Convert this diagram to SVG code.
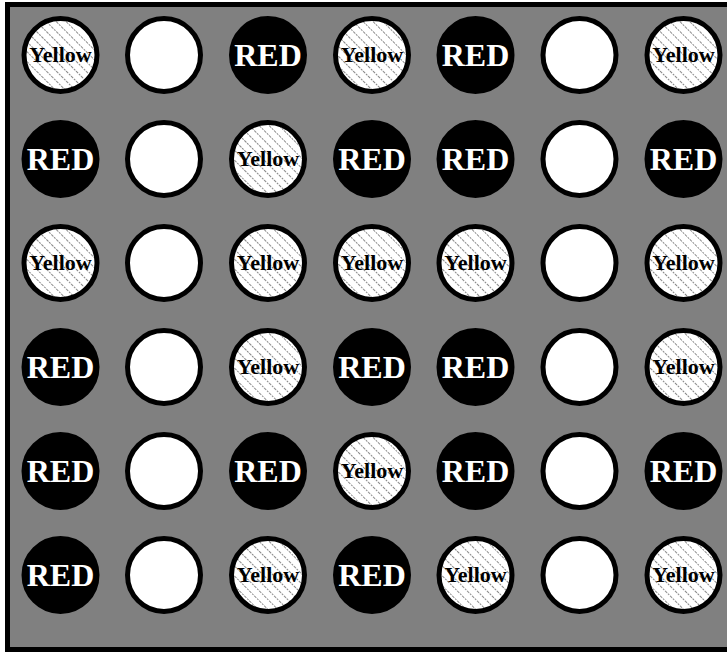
<svg xmlns="http://www.w3.org/2000/svg" width="727" height="654" viewBox="0 0 727 654">
<defs>
<pattern id="hatch" patternUnits="userSpaceOnUse" width="7" height="7" patternTransform="rotate(-45)">
<rect width="7" height="7" fill="#ffffff"/>
<line x1="3.5" y1="0" x2="3.5" y2="7" stroke="#8a8a8a" stroke-width="1" stroke-dasharray="2 1"/>
</pattern>
</defs>
<style>
.board{fill:#808080;stroke:#000;stroke-width:5}
.w{fill:#fff;stroke:#000;stroke-width:5}
.r{fill:#000;stroke:#000;stroke-width:5}
.y{fill:url(#hatch);stroke:#000;stroke-width:5}
.tr{fill:#fff;font-family:"Liberation Serif","Times New Roman",serif;font-weight:bold;font-size:32px;text-anchor:middle}
.ty{fill:#000;font-family:"Liberation Serif","Times New Roman",serif;font-weight:bold;font-size:22px;text-anchor:middle}
</style>
<rect class="board" x="7.5" y="4.5" width="730" height="645"/>
<g id="connectors"/>
<g id="r1c1"><circle class="y" cx="60.5" cy="55" r="36.5"/><text class="ty" x="60.5" y="62">Yellow</text></g>
<g id="r1c2"><circle class="w" cx="164" cy="55" r="36.5"/></g>
<g id="r1c3"><circle class="r" cx="268" cy="55" r="36.5"/><text class="tr" x="268" y="66">RED</text></g>
<g id="r1c4"><circle class="y" cx="372" cy="55" r="36.5"/><text class="ty" x="372" y="62">Yellow</text></g>
<g id="r1c5"><circle class="r" cx="475.5" cy="55" r="36.5"/><text class="tr" x="475.5" y="66">RED</text></g>
<g id="r1c6"><circle class="w" cx="579.5" cy="55" r="36.5"/></g>
<g id="r1c7"><circle class="y" cx="683.5" cy="55" r="36.5"/><text class="ty" x="683.5" y="62">Yellow</text></g>

<g id="r2c1"><circle class="r" cx="60.5" cy="159" r="36.5"/><text class="tr" x="60.5" y="170">RED</text></g>
<g id="r2c2"><circle class="w" cx="164" cy="159" r="36.5"/></g>
<g id="r2c3"><circle class="y" cx="268" cy="159" r="36.5"/><text class="ty" x="268" y="166">Yellow</text></g>
<g id="r2c4"><circle class="r" cx="372" cy="159" r="36.5"/><text class="tr" x="372" y="170">RED</text></g>
<g id="r2c5"><circle class="r" cx="475.5" cy="159" r="36.5"/><text class="tr" x="475.5" y="170">RED</text></g>
<g id="r2c6"><circle class="w" cx="579.5" cy="159" r="36.5"/></g>
<g id="r2c7"><circle class="r" cx="683.5" cy="159" r="36.5"/><text class="tr" x="683.5" y="170">RED</text></g>

<g id="r3c1"><circle class="y" cx="60.5" cy="263" r="36.5"/><text class="ty" x="60.5" y="270">Yellow</text></g>
<g id="r3c2"><circle class="w" cx="164" cy="263" r="36.5"/></g>
<g id="r3c3"><circle class="y" cx="268" cy="263" r="36.5"/><text class="ty" x="268" y="270">Yellow</text></g>
<g id="r3c4"><circle class="y" cx="372" cy="263" r="36.5"/><text class="ty" x="372" y="270">Yellow</text></g>
<g id="r3c5"><circle class="y" cx="475.5" cy="263" r="36.5"/><text class="ty" x="475.5" y="270">Yellow</text></g>
<g id="r3c6"><circle class="w" cx="579.5" cy="263" r="36.5"/></g>
<g id="r3c7"><circle class="y" cx="683.5" cy="263" r="36.5"/><text class="ty" x="683.5" y="270">Yellow</text></g>

<g id="r4c1"><circle class="r" cx="60.5" cy="367" r="36.5"/><text class="tr" x="60.5" y="378">RED</text></g>
<g id="r4c2"><circle class="w" cx="164" cy="367" r="36.5"/></g>
<g id="r4c3"><circle class="y" cx="268" cy="367" r="36.5"/><text class="ty" x="268" y="374">Yellow</text></g>
<g id="r4c4"><circle class="r" cx="372" cy="367" r="36.5"/><text class="tr" x="372" y="378">RED</text></g>
<g id="r4c5"><circle class="r" cx="475.5" cy="367" r="36.5"/><text class="tr" x="475.5" y="378">RED</text></g>
<g id="r4c6"><circle class="w" cx="579.5" cy="367" r="36.5"/></g>
<g id="r4c7"><circle class="y" cx="683.5" cy="367" r="36.5"/><text class="ty" x="683.5" y="374">Yellow</text></g>

<g id="r5c1"><circle class="r" cx="60.5" cy="471" r="36.5"/><text class="tr" x="60.5" y="482">RED</text></g>
<g id="r5c2"><circle class="w" cx="164" cy="471" r="36.5"/></g>
<g id="r5c3"><circle class="r" cx="268" cy="471" r="36.5"/><text class="tr" x="268" y="482">RED</text></g>
<g id="r5c4"><circle class="y" cx="372" cy="471" r="36.5"/><text class="ty" x="372" y="478">Yellow</text></g>
<g id="r5c5"><circle class="r" cx="475.5" cy="471" r="36.5"/><text class="tr" x="475.5" y="482">RED</text></g>
<g id="r5c6"><circle class="w" cx="579.5" cy="471" r="36.5"/></g>
<g id="r5c7"><circle class="r" cx="683.5" cy="471" r="36.5"/><text class="tr" x="683.5" y="482">RED</text></g>

<g id="r6c1"><circle class="r" cx="60.5" cy="575" r="36.5"/><text class="tr" x="60.5" y="586">RED</text></g>
<g id="r6c2"><circle class="w" cx="164" cy="575" r="36.5"/></g>
<g id="r6c3"><circle class="y" cx="268" cy="575" r="36.5"/><text class="ty" x="268" y="582">Yellow</text></g>
<g id="r6c4"><circle class="r" cx="372" cy="575" r="36.5"/><text class="tr" x="372" y="586">RED</text></g>
<g id="r6c5"><circle class="y" cx="475.5" cy="575" r="36.5"/><text class="ty" x="475.5" y="582">Yellow</text></g>
<g id="r6c6"><circle class="w" cx="579.5" cy="575" r="36.5"/></g>
<g id="r6c7"><circle class="y" cx="683.5" cy="575" r="36.5"/><text class="ty" x="683.5" y="582">Yellow</text></g>
</svg>
